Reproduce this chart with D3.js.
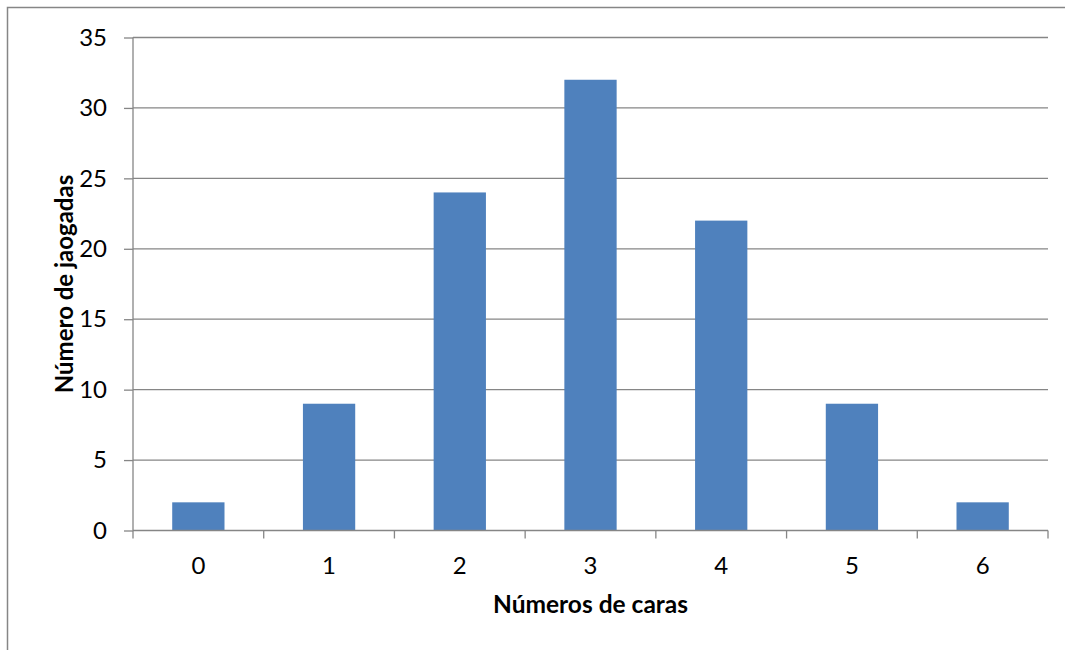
<!DOCTYPE html>
<html>
<head>
<meta charset="utf-8">
<script src="https://cdn.jsdelivr.net/npm/d3@7"></script>
<style>
  html, body { margin: 0; padding: 0; background: #fff; }
  svg { display: block; font-family: Lato, "Open Sans", sans-serif; }
</style>
</head>
<body>
<svg id="chart" width="1065" height="650"></svg>
<script>
// Distribution of heads counts over the throws
const categories = ["0", "1", "2", "3", "4", "5", "6"];
const throwCounts = [2, 9, 24, 32, 22, 9, 2];
const yTicks = [0, 5, 10, 15, 20, 25, 30, 35];
const xTitle = "Números de caras";
const yTitle = "Número de jaogadas";

const svg = d3.select("#chart");
const margin = { left: 133, right: 1048, top: 37.5, bottom: 530.5 };
const gridColor = "#868686";
const labelSize = 24;

// Outer chart frame (top and left edges visible)
svg.append("rect")
  .attr("x", 7.5).attr("y", 7.5)
  .attr("width", 1080).attr("height", 680)
  .attr("fill", "none")
  .attr("stroke", gridColor)
  .attr("stroke-width", 1.5);

const x = d3.scaleBand()
  .domain(categories)
  .range([margin.left, margin.right])
  .paddingInner(0.6)
  .paddingOuter(0.3);

const y = d3.scaleLinear()
  .domain([0, 35])
  .range([margin.bottom, margin.top]);

// Horizontal gridlines
svg.append("g")
  .selectAll("line")
  .data(yTicks.filter(d => d > 0))
  .join("line")
  .attr("x1", margin.left).attr("x2", margin.right)
  .attr("y1", d => y(d)).attr("y2", d => y(d))
  .attr("stroke", gridColor)
  .attr("stroke-width", 1.3);

// Bars
svg.append("g")
  .selectAll("rect")
  .data(throwCounts)
  .join("rect")
  .attr("x", (d, i) => x(categories[i]))
  .attr("width", x.bandwidth())
  .attr("y", d => y(d))
  .attr("height", d => y(0) - y(d))
  .attr("fill", "#4F81BD");

// Y axis
const yAxis = d3.axisLeft(y)
  .tickValues(yTicks)
  .tickSize(9)
  .tickPadding(17)
  .tickFormat(d3.format("d"));
const gy = svg.append("g")
  .attr("transform", `translate(${margin.left},0)`)
  .call(yAxis);
gy.select(".domain").attr("stroke", gridColor).attr("stroke-width", 1.3).attr("d", `M0,${margin.top}V${margin.bottom}`);
gy.selectAll(".tick line").attr("stroke", gridColor).attr("stroke-width", 1.3);
gy.selectAll(".tick text")
  .attr("fill", "#000")
  .attr("font-size", labelSize)
  .attr("font-family", "Lato, sans-serif");

// X axis with ticks at category boundaries
const boundaries = d3.range(categories.length + 1).map(i => margin.left + i * (margin.right - margin.left) / categories.length);
const gx = svg.append("g");
gx.append("line")
  .attr("x1", margin.left).attr("x2", margin.right)
  .attr("y1", margin.bottom).attr("y2", margin.bottom)
  .attr("stroke", gridColor).attr("stroke-width", 1.3);
gx.selectAll("line.tk")
  .data(boundaries)
  .join("line")
  .attr("class", "tk")
  .attr("x1", d => d).attr("x2", d => d)
  .attr("y1", margin.bottom).attr("y2", margin.bottom + 8)
  .attr("stroke", gridColor).attr("stroke-width", 1.3);
gx.selectAll("text")
  .data(categories)
  .join("text")
  .attr("x", d => x(d) + x.bandwidth() / 2)
  .attr("y", 574)
  .attr("text-anchor", "middle")
  .attr("font-size", labelSize)
  .attr("fill", "#000")
  .text(d => d);

// Axis titles
svg.append("text")
  .attr("x", (margin.left + margin.right) / 2)
  .attr("y", 613)
  .attr("text-anchor", "middle")
  .attr("font-size", 24.5)
  .attr("font-weight", "bold")
  .text(xTitle);

svg.append("text")
  .attr("transform", `translate(73,${(margin.top + margin.bottom) / 2}) rotate(-90)`)
  .attr("text-anchor", "middle")
  .attr("font-size", 24)
  .attr("font-weight", "bold")
  .text(yTitle);
</script>
</body>
</html>
